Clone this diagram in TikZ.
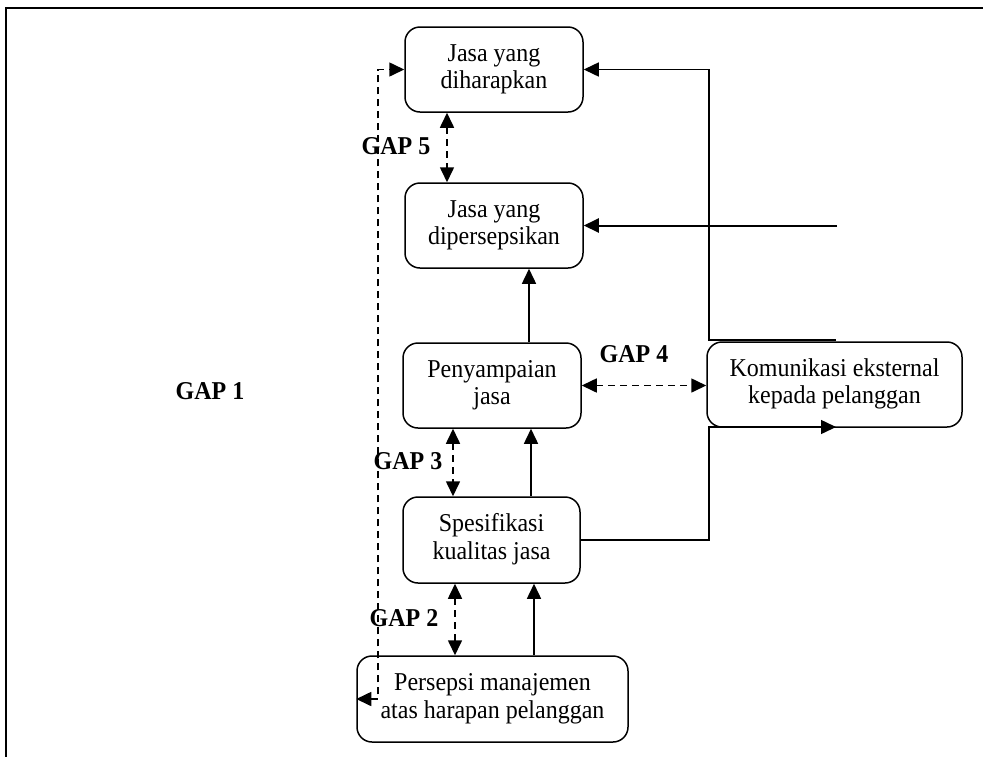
\documentclass[tikz,border=0pt]{standalone}
\usepackage{fontspec}
\usepackage{graphicx}
\setmainfont{Liberation Serif}
\usetikzlibrary{arrows.meta,calc}
% slightly tall setting of centred text lines
\newcommand\talltext[1]{\scalebox{1}[1.07]{\begin{tabular}{@{}c@{}}#1\end{tabular}}}
\begin{document}
\begin{tikzpicture}[x=1pt,y=-1pt,
  box/.style={draw,line width=1.5pt,rounded corners=15pt,align=center,
    inner sep=0pt,font=\fontsize{24}{26}\selectfont},
  lbl/.style={font=\fontsize{24}{26}\selectfont\bfseries,inner sep=0pt},
  arrow/.style={line width=1.5pt,-{Triangle[length=15pt,width=14pt]}},
  gaparrow/.style={line width=1.6pt,dash pattern=on 7pt off 5pt,
    {Triangle[length=15pt,width=14pt]}-{Triangle[length=15pt,width=14pt]}}]
  \useasboundingbox (0,0) rectangle (983,756);
  % outer frame
  \draw[line width=1.5pt] (6,770) -- (6,8) -- (1000,8);

  % boxes
  \node[box,minimum width=178pt,minimum height=85pt] (harap) at (494,69.5) {\talltext{Jasa yang\\diharapkan}};
  \node[box,minimum width=178pt,minimum height=85pt] (dipers) at (494,225.5) {\talltext{Jasa yang\\dipersepsikan}};
  \node[box,minimum width=178pt,minimum height=85pt] (sampai) at (492,385.5) {\talltext{Penyampaian\\jasa}};
  \node[box,minimum width=177pt,minimum height=86pt] (spes) at (491.5,540) {\talltext{Spesifikasi\\kualitas jasa}};
  \node[box,minimum width=271pt,minimum height=86pt] (manaj) at (492.5,699) {\talltext{Persepsi manajemen\\atas harapan pelanggan}};
  \node[box,minimum width=255pt,minimum height=85pt] (komun) at (834.5,384.5) {\talltext{Komunikasi eksternal\\kepada pelanggan}};

  % gap labels
  \node[lbl] (g5) at (396,149) {\talltext{GAP 5}};
  \node[lbl] (g4) at (634,357) {\talltext{GAP 4}};
  \node[lbl] (g3) at (408,464) {\talltext{GAP 3}};
  \node[lbl] (g2) at (404,621) {\talltext{GAP 2}};
  \node[lbl] (g1) at (210,394) {\talltext{GAP 1}};

  % upward flow
  \draw[arrow] ([xshift=41.5pt]manaj.north) -- ([xshift=41.5pt]manaj.north |- spes.south);
  \draw[arrow] ([xshift=39.5pt]spes.north) -- ([xshift=39.5pt]spes.north |- sampai.south);
  \draw[arrow] ([xshift=37pt]sampai.north) -- ([xshift=37pt]sampai.north |- dipers.south);

  % gaps between boxes
  \draw[gaparrow] ([xshift=-47pt]harap.south) -- ([xshift=-47pt]harap.south |- dipers.north);
  \draw[gaparrow] ([xshift=-39pt]sampai.south) -- ([xshift=-39pt]sampai.south |- spes.north);
  \draw[gaparrow] ([xshift=-36.5pt]spes.south) -- ([xshift=-36.5pt]spes.south |- manaj.north);
  \draw[gaparrow] (sampai.east) -- (sampai.east -| komun.west);
  \draw[gaparrow] (manaj.west) -- ++(22,0) |- (harap.west);

  % external communication lines
  \coordinate (ka) at (836,340);
  \coordinate (kv) at (709,340);
  \coordinate (kb) at (837,225.5);
  \coordinate (kd) at (709,427);
  \coordinate (kc) at (836,427);
  \draw[arrow] (ka) -- (kv) |- (harap.east);
  \draw[arrow,line width=2pt] (kb) -- (dipers.east);
  \draw[arrow] (spes.east) -| (kd) -- (kc);
\end{tikzpicture}
\end{document}
